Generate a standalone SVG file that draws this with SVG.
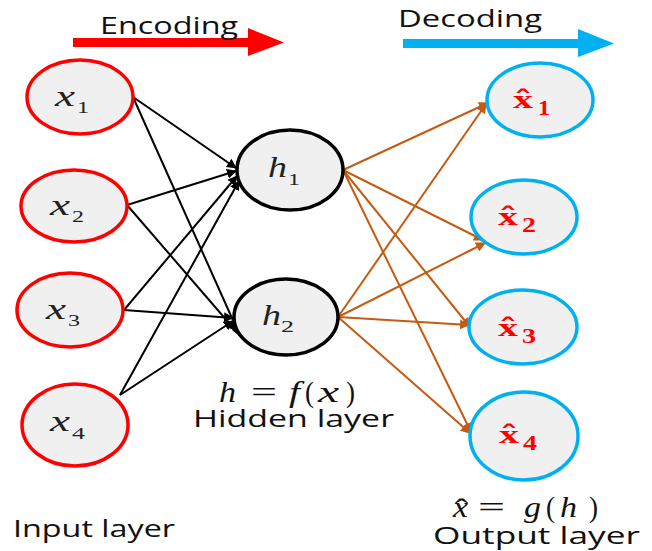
<svg xmlns="http://www.w3.org/2000/svg" width="652" height="551" viewBox="0 0 652 551">
<defs>
<style>
.in{fill:#f0f0f0;stroke:#ff0000;stroke-width:3.5}
.hid{fill:#f0f0f0;stroke:#000;stroke-width:3.5}
.out{fill:#f0f0f0;stroke:#00b0f0;stroke-width:3.5}
.bl{stroke:#000;stroke-width:2;fill:none;marker-end:url(#ab)}
.or{stroke:#c55a11;stroke-width:2;fill:none;marker-end:url(#ao)}
.v{font-family:"Liberation Serif",serif;font-style:italic;font-size:30px;fill:#222}
.s{font-family:"Liberation Serif",serif;font-size:17px;fill:#222}
.ov{font-family:"Liberation Serif",serif;font-weight:bold;font-size:25px;fill:#ff0000}
.os{font-family:"Liberation Serif",serif;font-weight:bold;font-size:21px;fill:#ff0000}
.hat{font-family:"DejaVu Serif",serif;font-weight:bold;font-size:24px;fill:#ff0000}
.t{font-family:"Open Sans","DejaVu Sans",sans-serif;font-size:24px;fill:#111}
.m{font-family:"Liberation Serif",serif;font-size:30px;fill:#111}
.i{font-style:italic}
</style>
<marker id="ab" viewBox="0 0 10 10" refX="9" refY="5" markerWidth="5" markerHeight="5" orient="auto" markerUnits="strokeWidth"><path d="M0,0 L10,5 L0,10 z" fill="#000"/></marker>
<marker id="ao" viewBox="0 0 10 10" refX="9" refY="5" markerWidth="5" markerHeight="5" orient="auto" markerUnits="strokeWidth"><path d="M0,0 L10,5 L0,10 z" fill="#c55a11"/></marker>
</defs>
<rect width="652" height="551" fill="#fff"/>

<g id="encoding">
<path d="M73,38 H248 V28 L284,42.5 L248,56 V47 H73 z" fill="#ff0000"/>
<text class="t" x="100" y="34" textLength="138" lengthAdjust="spacingAndGlyphs">Encoding</text>
</g>
<g id="decoding">
<path d="M403,39 H578 V29 L614,43.5 L578,57 V48 H403 z" fill="#00b0f0"/>
<text class="t" x="398" y="27" textLength="144" lengthAdjust="spacingAndGlyphs">Decoding</text>
</g>

<g id="connectors">
<line class="bl" x1="133" y1="97" x2="236" y2="168"/>
<line class="bl" x1="133" y1="97" x2="240" y2="336"/>
<line class="bl" x1="127" y1="205" x2="236" y2="171"/>
<line class="bl" x1="127" y1="205" x2="235" y2="330"/>
<line class="bl" x1="124" y1="310" x2="237" y2="176"/>
<line class="bl" x1="124" y1="310" x2="233" y2="318"/>
<line class="bl" x1="120" y1="395" x2="239" y2="181"/>
<line class="bl" x1="120" y1="395" x2="233" y2="321"/>
<line class="or" x1="343" y1="170" x2="488" y2="103"/>
<line class="or" x1="343" y1="170" x2="483" y2="240"/>
<line class="or" x1="343" y1="170" x2="470" y2="327"/>
<line class="or" x1="343" y1="170" x2="471" y2="432"/>
<line class="or" x1="338" y1="317" x2="486" y2="104"/>
<line class="or" x1="338" y1="317" x2="485" y2="243"/>
<line class="or" x1="338" y1="317" x2="469" y2="325"/>
<line class="or" x1="338" y1="317" x2="470" y2="433"/>
</g>

<g id="x1"><ellipse class="in" cx="80" cy="97" rx="53" ry="37"/><text class="v" x="55" y="106" textLength="20" lengthAdjust="spacingAndGlyphs">x</text><text class="s" x="77" y="113" textLength="12" lengthAdjust="spacingAndGlyphs">1</text></g>
<g id="x2"><ellipse class="in" cx="74" cy="206" rx="53" ry="36"/><text class="v" x="50" y="215" textLength="20" lengthAdjust="spacingAndGlyphs">x</text><text class="s" x="72" y="222" textLength="12" lengthAdjust="spacingAndGlyphs">2</text></g>
<g id="x3"><ellipse class="in" cx="70" cy="310" rx="53" ry="37"/><text class="v" x="46" y="319" textLength="20" lengthAdjust="spacingAndGlyphs">x</text><text class="s" x="68" y="326" textLength="12" lengthAdjust="spacingAndGlyphs">3</text></g>
<g id="x4"><ellipse class="in" cx="75" cy="425" rx="53" ry="41"/><text class="v" x="50" y="431" textLength="20" lengthAdjust="spacingAndGlyphs">x</text><text class="s" x="72" y="439" textLength="13" lengthAdjust="spacingAndGlyphs">4</text></g>

<g id="h1"><ellipse class="hid" cx="290" cy="170" rx="53" ry="40"/><text class="v" x="268" y="177" textLength="19" lengthAdjust="spacingAndGlyphs">h</text><text class="s" x="288" y="185" textLength="12" lengthAdjust="spacingAndGlyphs">1</text></g>
<g id="h2"><ellipse class="hid" cx="286" cy="317" rx="52" ry="38"/><text class="v" x="262" y="325" textLength="19" lengthAdjust="spacingAndGlyphs">h</text><text class="s" x="281" y="332" textLength="13" lengthAdjust="spacingAndGlyphs">2</text></g>

<g id="xh1"><ellipse class="out" cx="540" cy="100" rx="53" ry="37"/><text class="hat" x="514" y="108" textLength="18" lengthAdjust="spacingAndGlyphs">ˆ</text><text class="ov" x="513" y="108" textLength="20" lengthAdjust="spacingAndGlyphs">x</text><text class="os" x="538" y="115" textLength="12" lengthAdjust="spacingAndGlyphs">1</text></g>
<g id="xh2"><ellipse class="out" cx="524" cy="217" rx="53" ry="37"/><text class="hat" x="499" y="225" textLength="18" lengthAdjust="spacingAndGlyphs">ˆ</text><text class="ov" x="498" y="225" textLength="20" lengthAdjust="spacingAndGlyphs">x</text><text class="os" x="522" y="232" textLength="14" lengthAdjust="spacingAndGlyphs">2</text></g>
<g id="xh3"><ellipse class="out" cx="523" cy="327" rx="54" ry="37"/><text class="hat" x="499" y="336" textLength="18" lengthAdjust="spacingAndGlyphs">ˆ</text><text class="ov" x="498" y="336" textLength="20" lengthAdjust="spacingAndGlyphs">x</text><text class="os" x="522" y="343" textLength="14" lengthAdjust="spacingAndGlyphs">3</text></g>
<g id="xh4"><ellipse class="out" cx="524" cy="436" rx="54" ry="44"/><text class="hat" x="500" y="443" textLength="18" lengthAdjust="spacingAndGlyphs">ˆ</text><text class="ov" x="499" y="443" textLength="20" lengthAdjust="spacingAndGlyphs">x</text><text class="os" x="523" y="450" textLength="14" lengthAdjust="spacingAndGlyphs">4</text></g>

<g id="labels">
<text class="m i" x="219" y="402" textLength="17" lengthAdjust="spacingAndGlyphs">h</text>
<text class="m" x="251" y="402" textLength="26" lengthAdjust="spacingAndGlyphs">=</text>
<text class="m i" x="289" y="402" textLength="11" lengthAdjust="spacingAndGlyphs">f</text>
<text class="m" x="305" y="402" textLength="9" lengthAdjust="spacingAndGlyphs">(</text>
<text class="m i" x="318" y="402" textLength="21" lengthAdjust="spacingAndGlyphs">x</text>
<text class="m" x="346" y="402" textLength="9" lengthAdjust="spacingAndGlyphs">)</text>
<text class="t" x="193" y="427" textLength="201" lengthAdjust="spacingAndGlyphs">Hidden layer</text>
<text class="t" x="13" y="537" font-size="22" textLength="162" lengthAdjust="spacingAndGlyphs">Input layer</text>
<text class="m" x="455" y="519" font-size="26" textLength="13" lengthAdjust="spacingAndGlyphs">ˆ</text>
<text class="m i" x="453" y="517" textLength="15" lengthAdjust="spacingAndGlyphs">x</text>
<text class="m" x="478" y="517" textLength="27" lengthAdjust="spacingAndGlyphs">=</text>
<text class="m i" x="524" y="517" textLength="17" lengthAdjust="spacingAndGlyphs">g</text>
<text class="m" x="546" y="517" textLength="9" lengthAdjust="spacingAndGlyphs">(</text>
<text class="m i" x="560" y="517" textLength="17" lengthAdjust="spacingAndGlyphs">h</text>
<text class="m" x="589" y="517" textLength="9" lengthAdjust="spacingAndGlyphs">)</text>
<text class="t" x="433" y="544" textLength="207" lengthAdjust="spacingAndGlyphs">Output layer</text>
</g>
</svg>
